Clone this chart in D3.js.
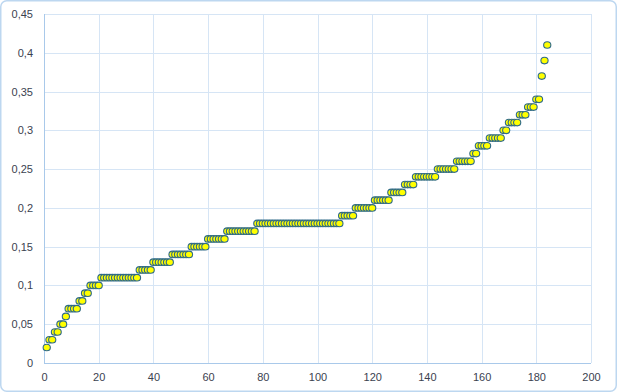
<!DOCTYPE html>
<html>
<head>
<meta charset="utf-8">
<script src="https://cdn.jsdelivr.net/npm/d3@7"></script>
<style>
  html, body { margin: 0; padding: 0; background: #fff; }
  svg { display: block; }
</style>
</head>
<body>
<svg id="chart" width="617" height="392"></svg>
<script>
// ---- data ----
const yValues = [
  0.02,
  0.03, 0.03,
  0.04, 0.04,
  0.05, 0.05,
  0.06,
  0.07, 0.07, 0.07, 0.07,
  0.08, 0.08,
  0.09, 0.09,
  0.10, 0.10, 0.10, 0.10,
  0.11, 0.11, 0.11, 0.11, 0.11, 0.11, 0.11, 0.11, 0.11, 0.11, 0.11, 0.11, 0.11, 0.11,
  0.12, 0.12, 0.12, 0.12, 0.12,
  0.13, 0.13, 0.13, 0.13, 0.13, 0.13, 0.13,
  0.14, 0.14, 0.14, 0.14, 0.14, 0.14, 0.14,
  0.15, 0.15, 0.15, 0.15, 0.15, 0.15,
  0.16, 0.16, 0.16, 0.16, 0.16, 0.16, 0.16,
  0.17, 0.17, 0.17, 0.17, 0.17, 0.17, 0.17, 0.17, 0.17, 0.17, 0.17,
  0.18, 0.18, 0.18, 0.18, 0.18, 0.18, 0.18, 0.18, 0.18, 0.18,
  0.18, 0.18, 0.18, 0.18, 0.18, 0.18, 0.18, 0.18, 0.18, 0.18,
  0.18, 0.18, 0.18, 0.18, 0.18, 0.18, 0.18, 0.18, 0.18, 0.18, 0.18,
  0.19, 0.19, 0.19, 0.19, 0.19,
  0.20, 0.20, 0.20, 0.20, 0.20, 0.20, 0.20,
  0.21, 0.21, 0.21, 0.21, 0.21, 0.21,
  0.22, 0.22, 0.22, 0.22, 0.22,
  0.23, 0.23, 0.23, 0.23,
  0.24, 0.24, 0.24, 0.24, 0.24, 0.24, 0.24, 0.24,
  0.25, 0.25, 0.25, 0.25, 0.25, 0.25, 0.25,
  0.26, 0.26, 0.26, 0.26, 0.26, 0.26,
  0.27, 0.27,
  0.28, 0.28, 0.28, 0.28,
  0.29, 0.29, 0.29, 0.29, 0.29,
  0.30, 0.30,
  0.31, 0.31, 0.31, 0.31,
  0.32, 0.32, 0.32,
  0.33, 0.33, 0.33,
  0.34, 0.34,
  0.37,
  0.39,
  0.41
];
const xTicks = [0, 20, 40, 60, 80, 100, 120, 140, 160, 180, 200];
const yTicks = [0, 0.05, 0.1, 0.15, 0.2, 0.25, 0.3, 0.35, 0.4, 0.45];
const yTickLabels = ["0", "0,05", "0,1", "0,15", "0,2", "0,25", "0,3", "0,35", "0,4", "0,45"];

// x is the point's rank (1-based position in the list)
const points = yValues.map((v, i) => ({ x: i + 1, y: v }));

// ---- layout ----
const W = 617, H = 392;
const plot = { left: 44, top: 14, right: 591, bottom: 363 };

const svg = d3.select("#chart");

// outer border
svg.append("rect")
  .attr("x", 0.75).attr("y", 0.75)
  .attr("width", W - 1.5).attr("height", H - 1.5)
  .attr("rx", 6).attr("ry", 6)
  .attr("fill", "#fff")
  .attr("stroke", "#bdd7f0")
  .attr("stroke-width", 1.5);

const x = d3.scaleLinear().domain([0, 200]).range([plot.left, plot.right]);
const y = d3.scaleLinear().domain([0, 0.45]).range([plot.bottom, plot.top]);

// gridlines
const grid = svg.append("g");
grid.selectAll("line.v").data(xTicks.slice(1)).join("line")
  .attr("x1", d => Math.round(x(d)) + 0.5).attr("x2", d => Math.round(x(d)) + 0.5)
  .attr("y1", plot.top).attr("y2", plot.bottom)
  .attr("stroke", "#d6e5f5").attr("stroke-width", 1);
grid.selectAll("line.h").data(yTicks.slice(1)).join("line")
  .attr("y1", d => Math.round(y(d)) + 0.5).attr("y2", d => Math.round(y(d)) + 0.5)
  .attr("x1", plot.left).attr("x2", plot.right)
  .attr("stroke", "#d6e5f5").attr("stroke-width", 1);

// axes lines
svg.append("line")
  .attr("x1", plot.left + 0.5).attr("x2", plot.left + 0.5)
  .attr("y1", plot.top).attr("y2", plot.bottom)
  .attr("stroke", "#a9c9ea").attr("stroke-width", 1);
svg.append("line")
  .attr("x1", plot.left).attr("x2", plot.right)
  .attr("y1", plot.bottom + 0.5).attr("y2", plot.bottom + 0.5)
  .attr("stroke", "#a9c9ea").attr("stroke-width", 1);

// axes labels via d3 axes
const xAxis = d3.axisBottom(x).tickValues(xTicks).tickSize(0).tickPadding(10).tickFormat(d3.format("d"));
const gx = svg.append("g").attr("transform", `translate(0,${plot.bottom})`).call(xAxis);
gx.select(".domain").remove();

const yAxis = d3.axisLeft(y).tickValues(yTicks).tickSize(0).tickPadding(11)
  .tickFormat((d, i) => yTickLabels[i]);
const gy = svg.append("g").attr("transform", `translate(${plot.left},0)`).call(yAxis);
gy.select(".domain").remove();

svg.selectAll(".tick text")
  .attr("fill", "#3b4250")
  .style("font-family", "'Liberation Sans', Arial, sans-serif")
  .style("font-size", "11px");

// points
svg.append("g").selectAll("ellipse").data(points).join("ellipse")
  .attr("cx", d => x(d.x))
  .attr("cy", d => y(d.y))
  .attr("rx", 3.6).attr("ry", 3.3)
  .attr("fill", "#ffff00")
  .attr("stroke", "#2f6a88")
  .attr("stroke-width", 1.1);
</script>
</body>
</html>
